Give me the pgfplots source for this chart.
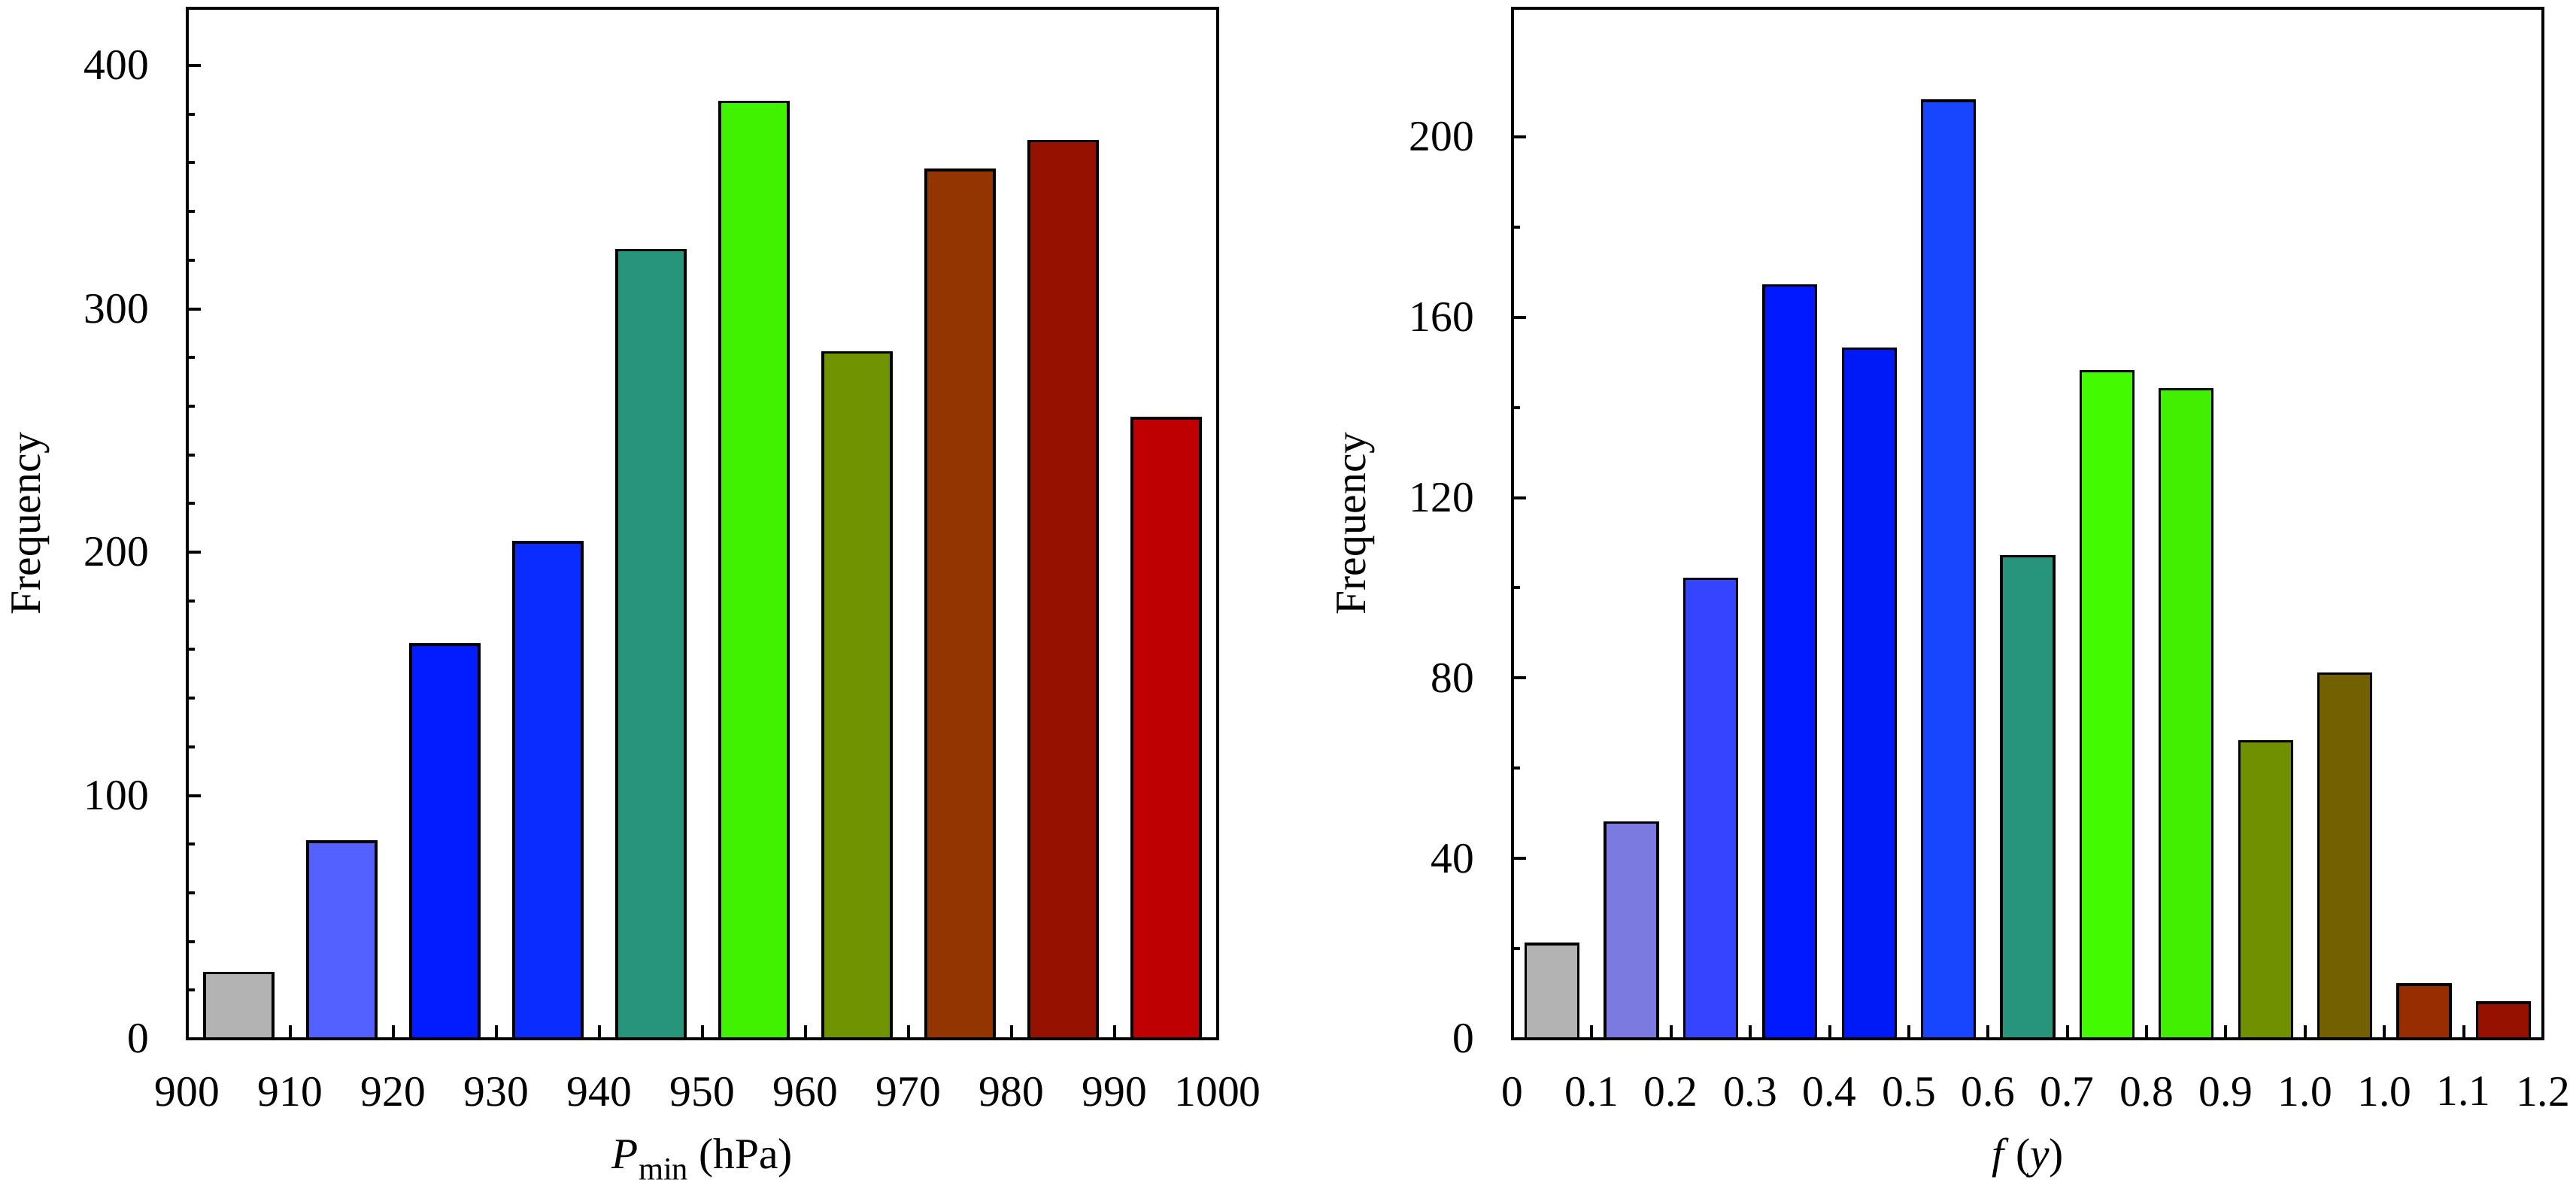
\documentclass[border=0pt]{standalone}
\usepackage{fontspec}
\setmainfont{Liberation Serif}
\usepackage{pgfplots}
\pgfplotsset{compat=1.18}
\definecolor{a1}{HTML}{B3B3B3}
\definecolor{a2}{HTML}{5261FF}
\definecolor{a3}{HTML}{001CFF}
\definecolor{a4}{HTML}{0A2CFF}
\definecolor{a5}{HTML}{26957B}
\definecolor{a6}{HTML}{40F200}
\definecolor{a7}{HTML}{709400}
\definecolor{a8}{HTML}{933500}
\definecolor{a9}{HTML}{961200}
\definecolor{a10}{HTML}{BF0000}
\definecolor{b1}{HTML}{B3B3B3}
\definecolor{b2}{HTML}{7A7AE0}
\definecolor{b3}{HTML}{3544FF}
\definecolor{b4}{HTML}{0019FF}
\definecolor{b5}{HTML}{0019F7}
\definecolor{b6}{HTML}{1846FF}
\definecolor{b7}{HTML}{26957B}
\definecolor{b8}{HTML}{44FA00}
\definecolor{b9}{HTML}{40F000}
\definecolor{b10}{HTML}{709000}
\definecolor{b11}{HTML}{736000}
\definecolor{b12}{HTML}{982D00}
\definecolor{b13}{HTML}{961200}
\pgfplotsset{
  myaxis/.style={
    anchor=south west, width=274pt, height=274pt, scale only axis,
    ymin=0,
    tick align=inside, tick pos=left,
    major tick length=3.6pt, minor tick length=2pt,
    every tick/.style={black, line width=0.8pt},
    axis line style={line width=0.8pt},
    /pgf/number format/assume math mode=true,
    /pgf/number format/1000 sep={},
    ticklabel style={font=\fontsize{11.5}{13}\selectfont, inner sep=0pt},
    xticklabel style={anchor=north},
    yticklabel style={anchor=east},
    xticklabel shift=10pt,
    yticklabel shift=10pt,
    label style={font=\fontsize{11.5}{13}\selectfont, inner sep=0pt},
    xlabel style={at={(axis description cs:0.5,0)}, anchor=base, yshift=-34.4pt},
    ylabel style={at={(axis description cs:-0.143,0.5)}, anchor=base, rotate=0},
  },
  mybar/.style={ybar, bar shift=0pt, draw=black, line width=0.65pt, fill=#1},
}
\begin{document}
\begin{tikzpicture}
\path[use as bounding box] (0,0) rectangle (685pt,316.2pt);
\begin{axis}[myaxis, at={(49.8pt,40pt)},
  xmin=900, xmax=1000, ymax=423.5,
  xtick={900,910,...,1000}, ytick={0,100,...,400}, minor y tick num=4,
  xlabel={\textit{P}\raisebox{-3pt}{\fontsize{8.5}{10}\selectfont min} (hPa)}, ylabel={Frequency}]
\addplot[mybar=a1, bar width=6.65] coordinates {(905,27)};
\addplot[mybar=a2, bar width=6.65] coordinates {(915,81)};
\addplot[mybar=a3, bar width=6.65] coordinates {(925,162)};
\addplot[mybar=a4, bar width=6.65] coordinates {(935,204)};
\addplot[mybar=a5, bar width=6.65] coordinates {(945,324)};
\addplot[mybar=a6, bar width=6.65] coordinates {(955,385)};
\addplot[mybar=a7, bar width=6.65] coordinates {(965,282)};
\addplot[mybar=a8, bar width=6.65] coordinates {(975,357)};
\addplot[mybar=a9, bar width=6.65] coordinates {(985,369)};
\addplot[mybar=a10, bar width=6.65] coordinates {(995,255)};
\end{axis}
\begin{axis}[myaxis, at={(402.2pt,40pt)},
  xmin=0, xmax=13, ymax=228.5,
  xtick={0,1,...,13},
  xticklabels={0,0.1,0.2,0.3,0.4,0.5,0.6,0.7,0.8,0.9,1.0,1.0,1.1,1.2},
  ytick={0,40,...,200}, minor y tick num=1,
  xlabel={\textit{f}\,(\textit{y})}, ylabel={Frequency}]
\addplot[mybar=b1, bar width=0.664] coordinates {(0.5,21)};
\addplot[mybar=b2, bar width=0.664] coordinates {(1.5,48)};
\addplot[mybar=b3, bar width=0.664] coordinates {(2.5,102)};
\addplot[mybar=b4, bar width=0.664] coordinates {(3.5,167)};
\addplot[mybar=b5, bar width=0.664] coordinates {(4.5,153)};
\addplot[mybar=b6, bar width=0.664] coordinates {(5.5,208)};
\addplot[mybar=b7, bar width=0.664] coordinates {(6.5,107)};
\addplot[mybar=b8, bar width=0.664] coordinates {(7.5,148)};
\addplot[mybar=b9, bar width=0.664] coordinates {(8.5,144)};
\addplot[mybar=b10, bar width=0.664] coordinates {(9.5,66)};
\addplot[mybar=b11, bar width=0.664] coordinates {(10.5,81)};
\addplot[mybar=b12, bar width=0.664] coordinates {(11.5,12)};
\addplot[mybar=b13, bar width=0.664] coordinates {(12.5,8)};
\end{axis}
\end{tikzpicture}
\end{document}
